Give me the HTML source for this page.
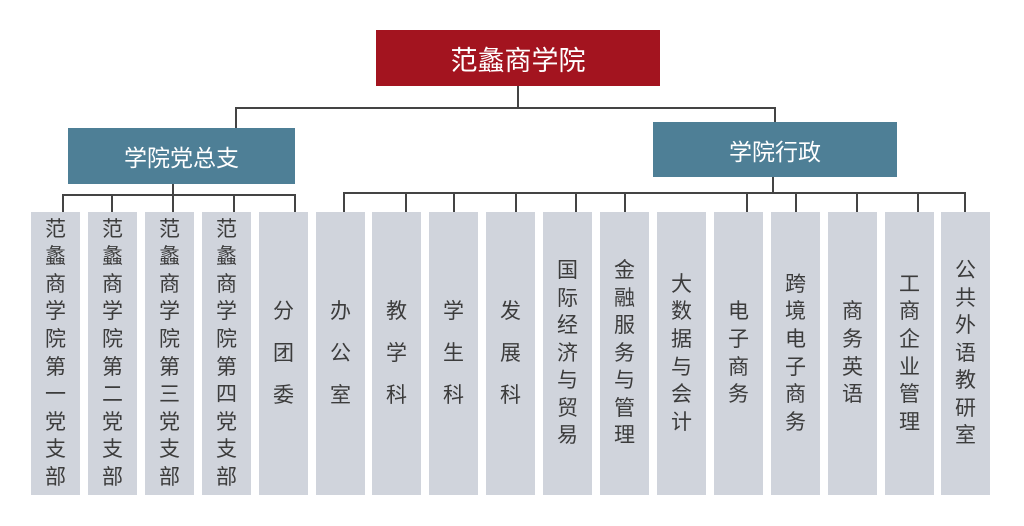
<!DOCTYPE html>
<html><head><meta charset="utf-8"><style>
body{margin:0;width:1024px;height:526px;background:#fff;position:relative;overflow:hidden;font-family:"Liberation Sans","Noto Sans CJK SC",sans-serif}
.b{position:absolute;color:#fff;display:flex;align-items:center;justify-content:center}
.l{position:absolute;background:#444}
.d{position:absolute;background:#444;width:2px;top:193px;height:19px}
.c{position:absolute;top:212px;height:283px;width:49px;background:#d0d4dc;color:#3c3c3c;font-size:21px;display:flex;flex-direction:column;align-items:center;justify-content:center;text-align:center}
.c span{display:block;height:27.6px;line-height:27.6px}
.c.w span{height:42px;line-height:42px}
</style></head><body>
<div class="b" style="left:376px;top:30px;width:284px;height:56px;background:#a3141f;font-size:27px">范蠡商学院</div>
<div class="b" style="left:68px;top:128px;width:227px;height:56px;background:#4e7f96;font-size:23px">学院党总支</div>
<div class="b" style="left:653px;top:122px;width:244px;height:55px;background:#4e7f96;font-size:23px">学院行政</div>
<div class="l" style="left:517px;top:86px;width:2px;height:23px"></div>
<div class="l" style="left:235px;top:107px;width:541px;height:2px"></div>
<div class="l" style="left:235px;top:107px;width:2px;height:21px"></div>
<div class="l" style="left:774px;top:107px;width:2px;height:15px"></div>
<div class="l" style="left:172px;top:184px;width:2px;height:28px"></div>
<div class="l" style="left:62px;top:194px;width:234px;height:2px"></div>
<div class="l" style="left:772px;top:177px;width:2px;height:16px"></div>
<div class="l" style="left:343px;top:192px;width:623px;height:2px"></div>

<div class="d" style="left:62px;top:195px;height:17px"></div>
<div class="d" style="left:111px;top:195px;height:17px"></div>
<div class="d" style="left:233px;top:195px;height:17px"></div>
<div class="d" style="left:294px;top:195px;height:17px"></div>
<div class="d" style="left:343px"></div>
<div class="d" style="left:405px"></div>
<div class="d" style="left:453px"></div>
<div class="d" style="left:515px"></div>
<div class="d" style="left:575px"></div>
<div class="d" style="left:624px"></div>
<div class="d" style="left:746px"></div>
<div class="d" style="left:795px"></div>
<div class="d" style="left:856px"></div>
<div class="d" style="left:917px"></div>
<div class="d" style="left:964px"></div>

<div class="c" style="left:31px"><span>范</span><span>蠡</span><span>商</span><span>学</span><span>院</span><span>第</span><span>一</span><span>党</span><span>支</span><span>部</span></div>
<div class="c" style="left:88px"><span>范</span><span>蠡</span><span>商</span><span>学</span><span>院</span><span>第</span><span>二</span><span>党</span><span>支</span><span>部</span></div>
<div class="c" style="left:145px"><span>范</span><span>蠡</span><span>商</span><span>学</span><span>院</span><span>第</span><span>三</span><span>党</span><span>支</span><span>部</span></div>
<div class="c" style="left:202px"><span>范</span><span>蠡</span><span>商</span><span>学</span><span>院</span><span>第</span><span>四</span><span>党</span><span>支</span><span>部</span></div>
<div class="c w" style="left:259px"><span>分</span><span>团</span><span>委</span></div>
<div class="c w" style="left:316px"><span>办</span><span>公</span><span>室</span></div>
<div class="c w" style="left:372px"><span>教</span><span>学</span><span>科</span></div>
<div class="c w" style="left:429px"><span>学</span><span>生</span><span>科</span></div>
<div class="c w" style="left:486px"><span>发</span><span>展</span><span>科</span></div>
<div class="c" style="left:543px"><span>国</span><span>际</span><span>经</span><span>济</span><span>与</span><span>贸</span><span>易</span></div>
<div class="c" style="left:600px"><span>金</span><span>融</span><span>服</span><span>务</span><span>与</span><span>管</span><span>理</span></div>
<div class="c" style="left:657px"><span>大</span><span>数</span><span>据</span><span>与</span><span>会</span><span>计</span></div>
<div class="c" style="left:714px"><span>电</span><span>子</span><span>商</span><span>务</span></div>
<div class="c" style="left:771px"><span>跨</span><span>境</span><span>电</span><span>子</span><span>商</span><span>务</span></div>
<div class="c" style="left:828px"><span>商</span><span>务</span><span>英</span><span>语</span></div>
<div class="c" style="left:885px"><span>工</span><span>商</span><span>企</span><span>业</span><span>管</span><span>理</span></div>
<div class="c" style="left:941px"><span>公</span><span>共</span><span>外</span><span>语</span><span>教</span><span>研</span><span>室</span></div>
</body></html>
